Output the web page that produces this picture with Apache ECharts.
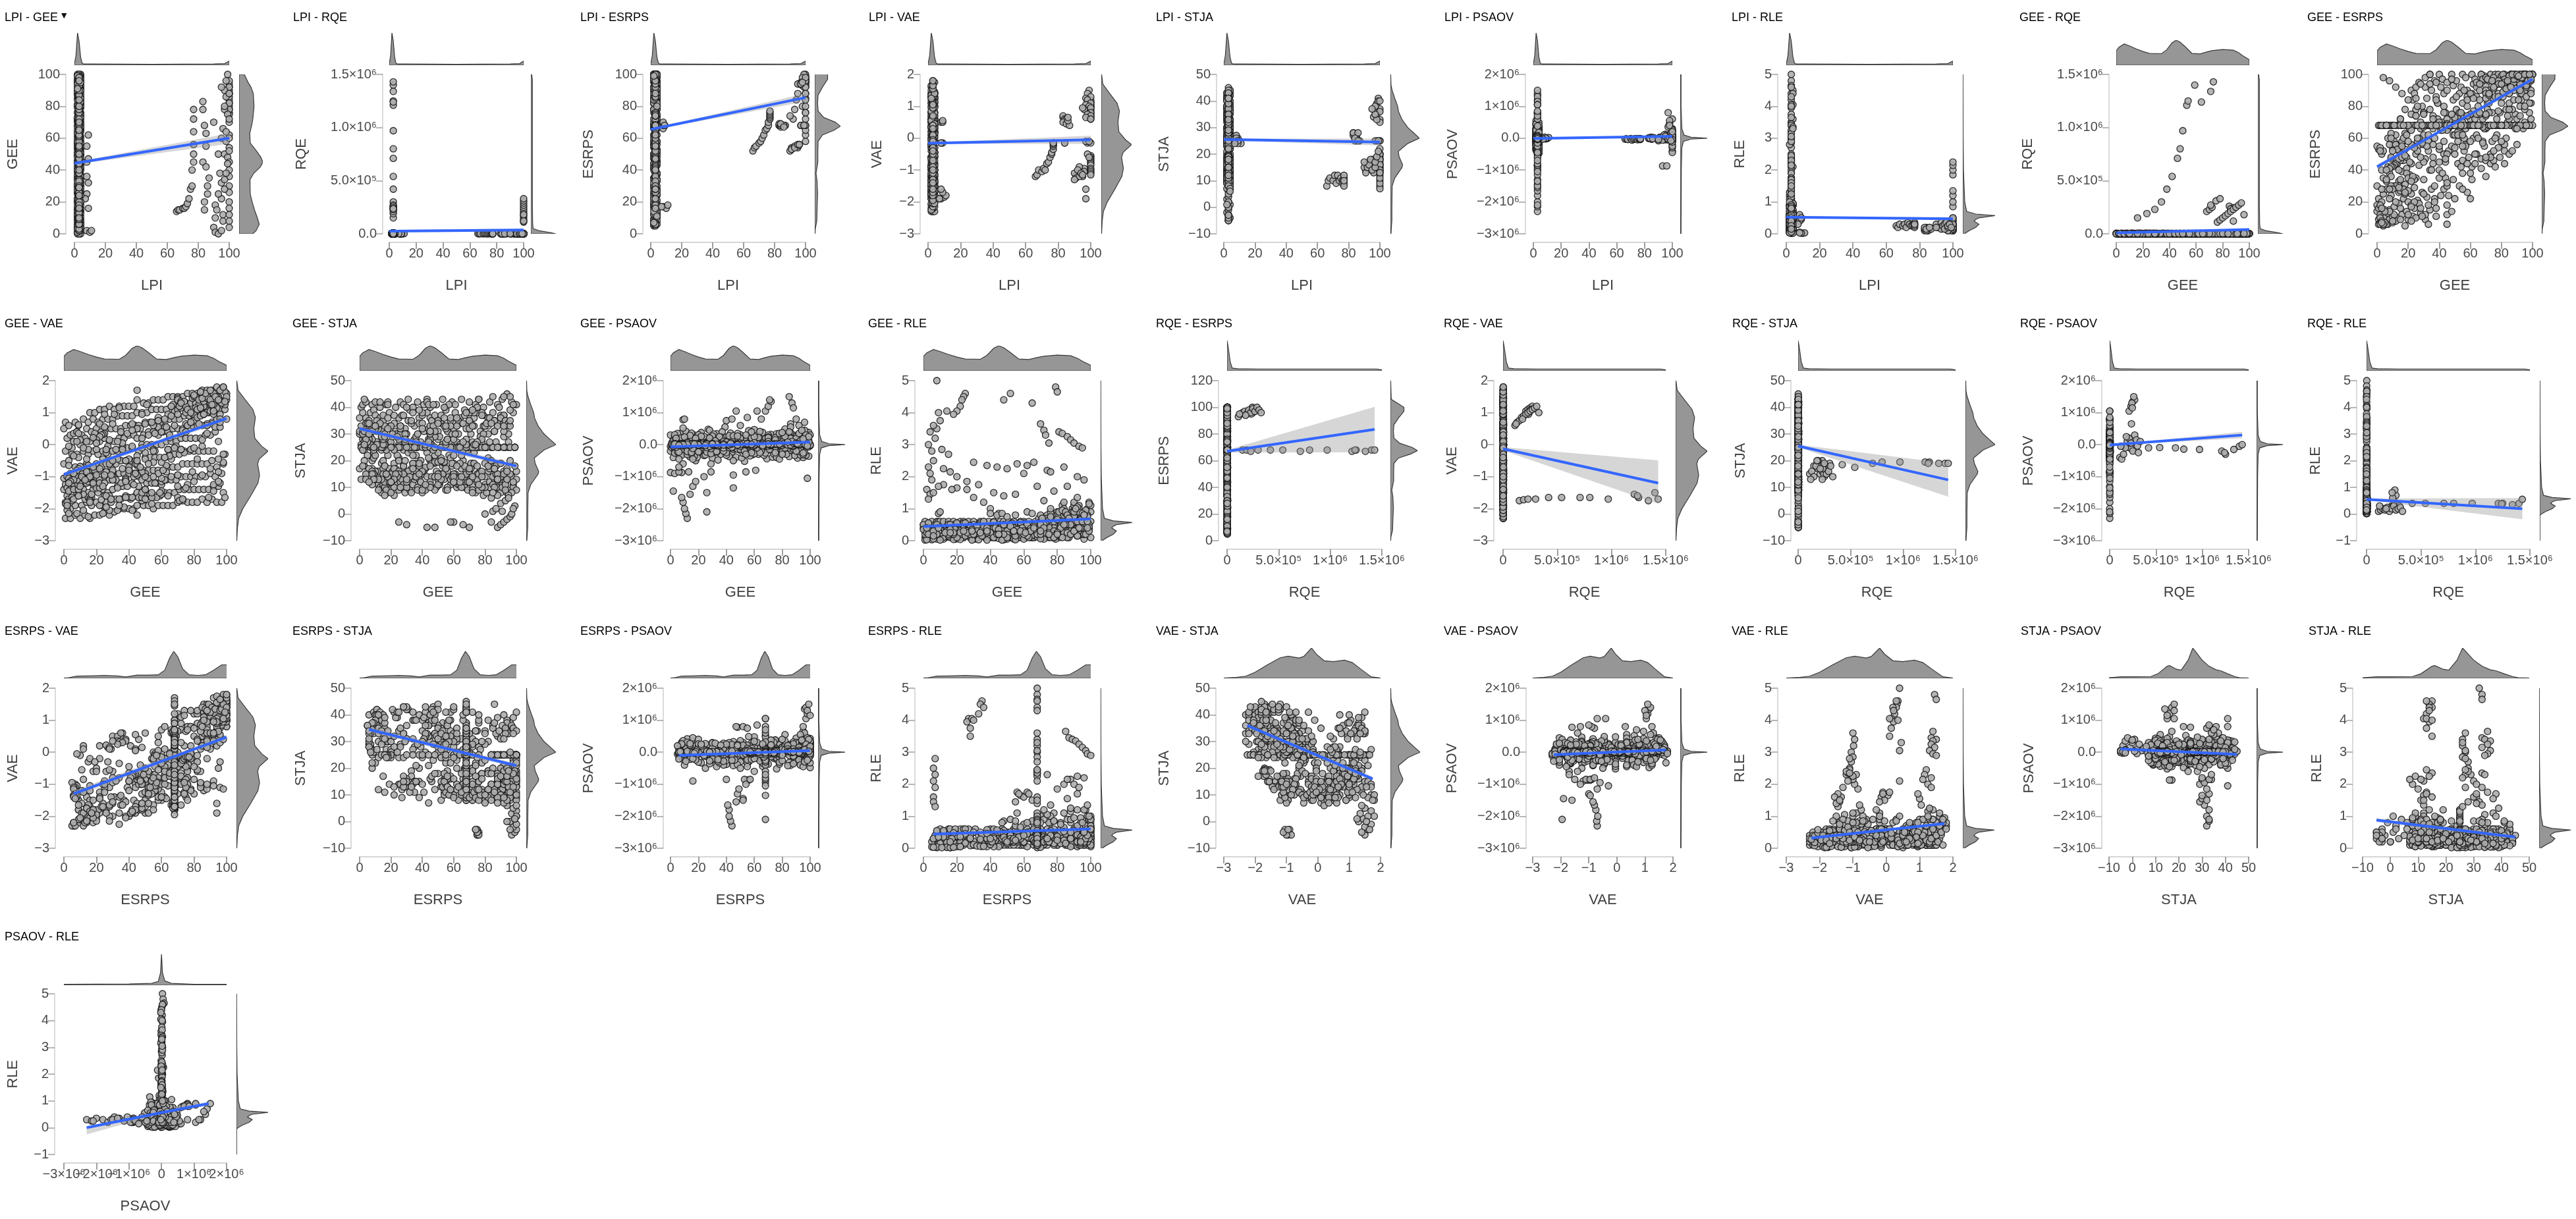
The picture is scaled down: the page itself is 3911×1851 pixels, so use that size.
<!DOCTYPE html>
<html><head><meta charset="utf-8"><title>Pairwise scatter plots with marginal densities</title>
<style>html,body{margin:0;padding:0;background:#fff}#c{width:3911px;height:1851px}</style>
<script src="https://cdn.jsdelivr.net/npm/echarts@6/dist/echarts.min.js"></script></head>
<body><div id="c"></div>
<script>
// Columns of each observation: LPI, GEE, RQE (thousands), ESRPS, VAE, STJA, PSAOV (ten-thousands), RLE
const rowsCloud=[
[3,1,2,6,-2.3,40,-12,.1],[2,1,1,9,-1.8,33,4,.3],[4,0,3,14,-1.4,36,-5,.5],[3,2,0,7,-1,28,18,.2],[2,0,5,18,-.6,30,-20,.4],[3,1,2,22,-.2,26,6,.6],[4,2,1,12,.2,24,-3,.1],[3,0,0,30,.5,31,30,.5],[2,1,4,68,.7,25,-9,.3],[3,2,2,68,-1.6,41,12,.2],
[2,4,3,5,-2.3,36,-6,.2],[3,4,1,11,-2,42,8,.4],[4,3,2,16,-1.7,30,-15,.1],[3,5,0,8,-1.3,27,12,.5],[2,4,6,25,-.9,34,-2,.3],[3,3,2,20,-.5,24,25,.2],[4,5,1,10,-.1,22,-18,.6],[3,4,3,35,.3,28,5,.4],[2,3,1,50,.6,18,-7,.1],[3,5,2,68,-.3,15,3,.3],
[3,7,2,6,-2.2,29,10,.3],[4,7,0,13,-1.9,38,-4,.5],[2,8,5,9,-1.5,41,-22,.2],[3,6,1,28,-1.1,33,6,.1],[3,7,3,42,-.7,26,14,.4],[4,8,2,15,-.3,17,-10,.6],[2,6,1,68,.1,14,2,.2],[3,8,4,38,.4,20,-28,.5],[3,7,0,60,.7,25,35,.3],[2,6,2,68,-1.3,35,-5,.1],
[3,10,1,7,-2.3,33,-3,.4],[2,11,3,17,-1.9,27,20,.2],[4,9,2,24,-1.6,39,-12,.6],[3,10,0,11,-1.2,42,7,.3],[3,11,6,30,-.8,31,-25,.1],[2,9,2,47,-.4,23,4,.5],[3,10,1,68,0,13,-6,.2],[4,11,4,58,.3,16,28,.4],[3,9,2,36,.6,21,-15,.3],[2,10,1,68,-.9,37,3,.6],
[3,13,2,10,-2.2,40,6,.1],[4,14,1,19,-1.8,32,-9,.5],[2,12,3,8,-1.4,25,15,.3],[3,13,5,44,-1,36,-4,.4],[3,14,0,26,-.6,29,22,.2],[2,12,2,54,-.2,11,-13,.6],[4,13,4,68,.2,10,5,.1],[3,14,1,33,.5,19,-21,.4],[3,12,3,62,.8,14,9,.3],[2,13,2,68,-1.7,42,-2,.2],
[4,16,1,12,-2.3,30,-5,.3],[3,17,4,22,-1.9,41,11,.1],[2,15,2,16,-1.5,35,-17,.5],[3,16,0,39,-1.1,28,3,.2],[3,17,3,52,-.7,24,30,.4],[4,15,2,27,-.3,9,-8,.6],[2,16,5,68,.1,12,1,.3],[3,17,1,46,.4,15,-26,.2],[3,15,2,72,.7,20,13,.5],[4,16,3,68,1,18,-3,.1],
[3,19,2,14,-2.2,38,9,.2],[2,20,1,9,-1.8,26,-14,.4],[3,18,5,31,-1.4,42,4,.6],[4,19,3,48,-1,33,-2,.1],[3,20,0,20,-.6,27,18,.3],[3,18,2,63,-.2,8,-20,.5],[2,19,4,41,.2,11,6,.2],[3,20,1,68,.5,13,-7,.4],[4,18,2,78,.8,22,24,.3],[3,19,3,68,1,17,-4,.1],
[2,22,1,18,-2.2,34,-1,.5],[3,23,3,11,-1.9,40,12,.1],[4,21,2,37,-1.5,29,-16,.3],[3,22,0,25,-1.1,24,7,.6],[3,23,4,55,-.7,31,-6,.2],[2,21,2,68,-.3,10,27,.4],[3,22,1,44,.1,7,-11,.1],[4,23,5,84,.4,14,2,.5],[3,21,2,66,.7,16,-24,.3],[2,22,3,90,1.1,19,5,.2],
[3,25,2,10,-2.1,36,-8,.2],[4,26,4,21,-1.8,42,15,.4],[3,24,1,29,-1.4,30,-3,.1],[2,25,3,50,-1,26,19,.5],[3,26,0,68,-.6,33,-12,.3],[3,24,2,16,-.2,11,6,.6],[4,25,5,74,.2,9,-19,.2],[2,26,1,58,.5,12,3,.4],[3,24,3,88,.8,15,10,.1],[3,25,2,92,1.1,21,-5,.3],
[3,28,1,13,-2.2,41,4,.4],[2,29,3,26,-1.8,28,-13,.2],[4,27,2,43,-1.5,37,21,.5],[3,28,5,68,-1.1,24,-1,.1],[3,29,0,56,-.7,32,-27,.3],[2,27,2,19,-.3,14,8,.6],[3,28,3,68,.1,10,-9,.2],[4,29,1,80,.5,8,16,.4],[3,27,2,95,.8,13,-4,.3],[3,28,4,70,1.2,18,2,.1],
[2,31,2,9,-2.1,35,-6,.3],[3,32,1,23,-1.7,39,10,.1],[4,30,3,34,-1.4,27,-15,.5],[3,31,0,47,-1,43,5,.2],[3,32,2,68,-.6,25,-22,.4],[2,30,4,62,-.2,30,13,.6],[3,31,1,12,.1,12,-3,.3],[4,32,2,85,.5,9,7,.1],[3,30,3,76,.8,15,-10,.5],[2,31,2,98,1.1,23,26,.2],
[3,34,3,15,-2,40,1,.2],[4,35,1,28,-1.7,33,-7,.4],[3,33,2,52,-1.3,24,12,.1],[2,34,0,40,-.9,38,-18,.6],[3,35,5,68,-.5,28,4,.3],[3,33,2,58,-.2,17,20,.5],[4,34,1,78,.2,11,-11,.2],[2,35,3,90,.5,13,3,.4],[3,33,2,68,.9,8,-5,.1],[3,34,1,100,1.2,19,9,.3],
[4,37,2,30,-2,42,-4,.5],[3,38,1,11,-1.6,36,16,.2],[2,36,3,48,-1.3,29,-12,.4],[3,37,0,60,-.9,25,2,.1],[3,38,4,68,-.5,34,-20,.3],[4,36,2,74,-.1,22,7,.6],[2,37,1,22,.2,10,-2,.2],[3,38,2,86,.6,13,25,.4],[3,36,3,68,.9,16,-8,.3],[4,37,1,96,1.2,9,4,.1],
[3,40,1,40,-2,34,6,.3],[2,41,3,24,-1.7,41,-10,.1],[3,39,2,68,-1.3,27,23,.5],[4,40,0,53,-.9,37,-3,.2],[3,41,2,65,-.5,31,-16,.4],[2,39,5,82,-.1,12,9,.6],[3,40,1,68,.3,8,-1,.3],[4,41,3,92,.6,15,14,.2],[3,39,2,72,.9,20,-6,.1],[3,40,1,100,1.2,25,3,.4],
[3,43,2,28,-2,43,-2,.4],[4,44,1,45,-1.6,32,12,.2],[2,42,3,68,-1.2,25,-9,.5],[3,43,0,58,-.9,38,5,.1],[3,44,4,76,-.5,28,-23,.3],[4,42,2,68,-.1,10,17,.6],[3,43,1,88,.3,14,-4,.2],[2,44,2,35,.6,11,2,.4],[3,42,3,97,.9,17,-13,.3],[3,43,1,80,1.2,23,8,.1],
[3,45,2,6,-2.2,33,-6,.3],[2,45,1,12,-1.9,40,3,.5],[4,45,3,18,-1.5,30,-14,.2],[3,46,0,24,-1,26,9,.4],[3,45,2,30,-.6,36,1,.1],[2,46,4,68,-.2,25,-5,.6],[3,45,1,68,.2,25,7,.3],[4,46,2,66,.6,14,-2,.2],[3,45,3,90,1,12,15,.4],[2,45,1,95,1.4,20,-8,.3],[3,45,2,68,1.7,27,2,.1],[4,46,0,52,-1.3,35,11,.5],
[3,49,1,34,-1.9,41,5,.2],[4,50,3,50,-1.5,28,-17,.4],[3,48,2,68,-1.1,37,1,.1],[2,49,0,62,-.8,24,14,.5],[3,50,2,72,-.4,31,-7,.3],[3,48,5,55,0,22,22,.6],[4,49,1,84,.3,10,-3,.2],[2,50,2,68,.7,13,6,.4],[3,48,3,100,1,9,-12,.3],[3,49,1,93,1.3,16,3,.1],
[3,52,2,44,-1.9,37,-1,.4],[2,53,1,30,-1.6,43,13,.2],[4,51,3,68,-1.2,29,-8,.5],[3,52,0,58,-.8,34,4,.1],[3,53,2,64,-.4,26,-19,.3],[2,51,4,78,0,11,10,.6],[3,52,1,68,.4,15,-5,.2],[4,53,2,88,.7,18,2,.4],[3,51,3,96,1,12,24,.3],[3,52,1,74,1.3,21,-9,.1],
[4,55,3,38,-2,40,7,.3],[3,56,1,52,-1.6,31,-11,.5],[2,54,2,68,-1.2,25,2,.2],[3,55,0,46,-.8,39,18,.4],[3,56,2,60,-.4,28,-4,.1],[4,54,5,70,0,13,-15,.6],[2,55,1,82,.4,9,6,.3],[3,56,3,68,.7,16,-2,.2],[3,54,2,92,1.1,19,11,.5],[4,55,1,100,1.4,25,-6,.1],
[3,58,1,26,-1.9,35,3,.2],[3,59,2,48,-1.6,42,-12,.4],[2,57,3,56,-1.2,27,8,.1],[4,58,0,68,-.8,36,-3,.6],[3,59,2,74,-.4,30,20,.3],[3,57,1,66,0,14,-8,.5],[2,58,4,86,.3,11,2,.2],[3,59,2,68,.7,18,-17,.4],[4,57,1,98,1.1,22,9,.3],[3,58,3,90,1.4,13,-1,.1],
[2,61,2,42,-1.9,41,-5,.4],[3,62,1,60,-1.5,33,16,.2],[3,60,3,68,-1.2,25,-10,.6],[4,61,0,34,-.8,38,4,.1],[3,62,2,77,-.4,27,-21,.3],[2,60,4,68,0,12,7,.5],[3,61,1,88,.4,15,-2,.2],[3,62,2,94,.7,10,30,.4],[4,60,3,72,1.1,19,-7,.3],[3,61,1,100,1.4,24,3,.1],
[3,64,1,50,-1.9,36,2,.3],[4,65,2,68,-1.5,43,-13,.5],[2,63,3,44,-1.1,30,10,.2],[3,64,0,62,-.7,26,-4,.4],[3,65,2,80,-.3,34,15,.1],[3,63,4,68,.1,11,-9,.6],[4,64,1,92,.4,14,5,.3],[2,65,2,76,.8,17,-18,.2],[3,63,1,97,1.1,13,1,.5],[3,64,3,86,1.5,25,8,.1],
[3,67,2,41,-1.9,39,-3,.5],[2,68,1,58,-1.5,32,12,.3],[4,66,3,68,-1.1,25,-7,.1],[3,67,0,47,-.7,37,4,.6],[3,68,2,72,-.3,28,-14,.2],[3,66,1,84,.1,13,9,.4],[2,67,4,68,.5,10,-1,.3],[4,68,2,95,.8,16,19,.5],[3,66,1,90,1.2,20,-6,.1],[3,67,3,100,1.5,14,2,.4],
[4,70,2,46,-1.8,42,6,.2],[3,71,1,68,-1.4,34,-10,.4],[3,69,3,55,-1.1,24,3,.7],[2,70,0,66,-.7,38,-2,.1],[3,71,2,82,-.3,30,23,.5],[4,69,1,68,.1,9,-5,.3],[3,70,2,93,.5,12,11,.6],[2,71,4,78,.8,18,-16,.2],[3,69,1,99,1.2,25,2,.4],[3,70,2,88,1.5,15,7,.8],
[3,73,1,44,-1.7,36,-8,.4],[3,74,2,58,-1.4,41,4,.2],[4,72,3,68,-1,27,14,.6],[2,73,0,50,-.6,33,-3,.3],[3,74,2,76,-.2,25,9,.8],[3,72,1,90,.2,11,-12,.1],[4,73,2,68,.5,14,3,.5],[3,74,3,96,.9,8,-1,.7],[2,72,1,82,1.2,19,20,.3],[3,73,2,100,1.5,23,-4,.2],
[2,76,2,42,-1.8,43,1,.6],[3,77,1,62,-1.4,31,-15,.3],[3,75,3,46,-1,38,8,.1],[4,76,0,68,-.6,25,-6,.9],[3,77,2,72,-.2,29,3,.4],[3,75,1,85,.2,13,17,.2],[2,76,4,68,.6,9,-2,.7],[3,77,2,98,.9,16,5,.5],[4,75,1,91,1.3,12,-9,.3],[3,76,3,100,1.6,25,2,1],
[3,79,1,48,-1.8,40,-4,.3],[4,80,3,68,-1.4,33,11,.7],[3,78,2,54,-1,27,-1,.1],[3,79,0,76,-.6,37,6,.5],[2,80,2,68,-.2,11,-20,.9],[3,78,1,88,.2,14,2,.4],[4,79,3,94,.6,7,9,.2],[3,80,2,82,.9,19,-3,.8],[3,78,1,100,1.3,25,28,.6],[2,79,2,96,1.6,15,-7,.3],
[3,82,2,44,-1.8,36,4,.5],[3,83,1,60,-1.4,42,-9,.2],[2,81,3,68,-1,25,1,.8],[4,82,0,52,-.6,30,14,.4],[3,83,2,78,-.2,12,-5,1.1],[3,81,1,68,.2,8,7,.1],[3,82,2,92,.6,16,-13,.6],[4,83,3,99,1,10,3,.3],[2,81,1,86,1.3,25,-2,.9],[3,82,2,100,1.6,21,18,.5],
[4,85,1,50,-1.7,44,-6,.2],[3,86,2,68,-1.4,31,5,.6],[3,84,3,70,-1,25,-1,1],[2,85,0,82,-.6,38,10,.4],[3,86,2,68,-.2,13,-17,.1],[3,84,1,94,.2,6,3,.8],[4,85,2,88,.6,17,-4,.5],[3,86,3,100,1,11,24,.3],[2,84,1,97,1.3,25,2,1.2],[3,85,2,92,1.7,14,-10,.6],
[3,88,2,68,-1.8,41,3,.4],[3,89,1,75,-1.4,34,-7,.8],[4,87,3,52,-1,27,1,.2],[2,88,0,84,-.6,12,12,.6],[3,89,2,68,-.2,9,-3,1],[3,87,1,96,.3,15,6,.3],[3,88,2,90,.6,10,-14,.5],[4,89,3,100,1,25,2,.9],[2,87,1,78,1.3,18,-5,.1],[3,88,2,98,1.7,13,8,.7],
[3,91,1,68,-1.7,43,-2,.6],[4,92,2,80,-1.3,29,9,.3],[2,90,3,56,-.9,37,-6,1.1],[3,91,0,68,-.5,11,1,.5],[3,92,2,88,-.2,16,15,.2],[3,90,1,72,.3,8,-3,.9],[4,91,2,95,.7,13,4,.7],[2,92,3,100,1,25,-11,.4],[3,90,1,92,1.4,19,2,1.2],[3,91,2,97,1.7,10,21,.6],
[3,94,1,68,-1.8,45,3,.4],[2,95,2,70,-1.3,33,-8,.8],[3,93,3,84,-1,25,1,1.1],[4,94,0,66,-.7,14,6,.2],[3,95,2,90,.1,9,-4,.6],[3,93,1,98,.4,12,12,1],[2,94,2,100,.8,17,-2,.5],[3,95,3,94,1.1,25,7,.3],[4,93,1,88,1.4,11,-15,.9],[3,94,2,100,1.8,8,3,.7],
[3,97,2,68,-1.8,42,-5,.5],[3,98,1,76,-1.5,38,2,1],[4,96,3,86,-1.2,44,9,.3],[2,97,0,92,-.9,14,-2,.7],[3,98,2,68,-.6,11,5,.2],[3,99,1,96,-.3,25,-7,1.2],[4,100,2,100,.8,16,1,.6],[3,99,3,90,1.1,25,13,.4],[2,100,1,100,1.4,13,-3,.9],[3,98,2,98,1.8,10,4,.8],[3,100,1,68,1.6,9,-1,1.1],[4,99,2,82,1.3,18,8,.5]];
const rowsCloudFill=[
[3,2,1,10,-2.05,38,-40,.15],[4,5,2,15,-1.65,31,35,.25],[3,8,0,22,-1.25,28,-33,.05],[2,11,3,12,-.85,35,42,.35],[3,14,1,40,-.45,24,-38,.45],[3,3,2,8,-.05,20,31,.55],[4,6,1,33,.35,17,-45,.15],[3,9,4,68,.62,23,52,.25],[2,12,0,20,-2.05,26,-31,.05],[3,15,2,9,-1.65,37,36,.35],
[3,18,1,25,-1.25,41,-50,.45],[4,21,3,45,-.85,30,33,.15],[3,24,0,68,-.45,22,-34,.55],[2,27,2,60,-.05,16,48,.25],[3,19,1,38,.35,9,-40,.05],[3,22,5,75,.65,13,38,.35],[4,25,2,85,.95,20,-32,.45],[3,28,1,16,-2.05,37,45,.15],[2,17,3,28,-1.65,24,-36,.25],[3,20,0,12,-1.25,33,31,.55],
[3,30,2,45,-.85,40,-42,.05],[4,33,1,68,-.45,27,34,.35],[3,36,3,56,-.05,19,-30,.45],[2,39,2,82,.35,12,55,.15],[3,42,0,70,.65,9,-37,.25],[3,31,1,92,.95,16,33,.05],[4,34,2,100,1.15,22,-48,.55],[3,37,4,20,-1.95,30,40,.35],[2,40,1,35,-1.65,38,-33,.15],[3,43,2,50,-1.25,42,36,.45],
[3,47,1,68,-.85,33,-39,.25],[4,50,3,62,-.45,23,31,.05],[3,53,2,76,-.05,15,-52,.55],[2,56,0,90,.35,10,44,.35],[3,59,2,68,.65,14,-31,.15],[3,48,1,97,.95,19,35,.45],[4,51,4,86,1.25,12,-41,.25],[3,54,2,42,-1.85,36,30,.05],[2,57,1,55,-1.65,41,-35,.35],[3,60,3,68,-1.25,28,47,.55],
[3,63,2,50,-.85,35,-30,.15],[4,66,0,75,-.45,24,38,.45],[3,69,1,66,-.05,12,-44,.25],[2,72,3,88,.35,9,32,.05],[3,75,2,68,.65,15,-36,.65],[3,64,1,95,.95,11,41,.35],[4,67,2,100,1.25,18,-33,.15],[3,70,4,90,1.45,25,30,.55],[2,73,1,48,-1.75,38,-39,.25],[3,76,2,60,-1.25,43,34,.75],
[3,79,0,68,-.85,30,-31,.05],[4,82,2,56,-.45,36,49,.45],[3,85,1,78,-.05,11,-37,.85],[2,88,3,92,.35,7,30,.25],[3,91,2,84,.65,14,-42,.65],[3,80,1,99,.95,25,33,.15],[4,83,2,90,1.25,17,-30,.95],[3,86,3,100,1.45,10,37,.35],[2,89,1,66,-1.65,40,-34,.55],[3,92,2,74,-1.25,34,31,1.05],
[3,95,1,68,-.85,27,-40,.25],[4,98,0,82,-.55,12,35,.75],[3,93,2,96,.55,9,-32,.45],[2,96,3,100,.95,15,43,.05],[3,99,1,88,1.25,25,-36,1.15],[3,94,2,100,1.55,13,30,.65],[4,97,1,94,1.75,8,-33,.95],[3,99,2,72,-1.65,41,38,.35],[2,95,1,78,-1.15,30,-31,.85],[3,92,3,68,-1.45,44,32,.15],
[3,3,2,28,-2.15,43,-25,.08],[4,8,1,14,-2.15,25,22,.18],[2,15,3,34,-2.25,25,-28,.28],[3,24,0,20,-2.15,25,26,.38],[3,33,2,18,-2.05,25,-24,.48],[4,42,1,38,-2.05,25,28,.58],[3,3,2,40,-.65,25,-26,.12],[2,14,1,30,-.95,25,29,.22],[3,26,3,55,-.25,25,-23,.32],[4,36,2,44,.05,25,24,.42],
[3,52,1,64,-1.05,25,-27,.52],[2,63,0,72,-.65,25,22,.12],[3,74,2,68,-.25,25,-29,.22],[4,85,1,88,.15,25,26,.32],[3,96,3,92,.55,25,-24,.42],[2,58,2,84,.85,25,21,.52],[3,68,1,96,1.05,25,-26,.12],[4,81,2,100,1.15,25,23,.22],[3,92,1,98,1.35,25,-21,.32],[2,99,2,100,1.65,25,28,.42],
[3,20,1,35,-1.35,15,-22,.06],[4,30,3,25,-1,14,27,.16],[3,40,2,45,-.75,16,-25,.26],[2,50,1,22,-1.4,13,20,.36],[3,60,0,38,-1.55,15,-28,.46],[3,70,2,48,-.95,12,24,.56],[4,80,1,58,-1.15,10,-23,.66],[3,90,3,66,-.75,14,26,.76],[2,12,1,30,-1.55,16,-21,.11],[3,35,2,40,-1.2,14,25,.21],
[3,55,1,28,-.55,17,-27,.31],[4,75,0,52,-1.35,13,22,.41],[3,15,2,46,-.65,17,-24,.51],[2,45,3,32,-.9,11,28,.07],[3,65,1,60,-.35,10,-20,.17],[3,85,2,72,-.95,8,23,.27],[4,95,1,80,-.45,7,-26,.37],[3,28,2,48,.15,18,21,.47],[2,58,1,44,.55,21,-25,.57],[3,10,2,8,-1.05,22,24,.02],
[3,5,1,14,-1.75,34,-22,.03],[4,22,2,8,-1.35,37,26,.04],[3,38,0,16,-1.05,39,-20,.02],[2,48,1,14,-1.75,29,27,.03],[3,6,3,34,-.35,31,-23,.06],[3,18,2,5,-.95,36,20,.04],[4,29,1,11,-.55,27,-28,.02],[3,60,2,22,-1.45,32,25,.05],[2,33,1,6,-1.35,34,-21,.03],[3,70,0,36,-1.65,38,22,.06]];
const rowsLowLPIEdge=[
[8,2,1,17,-1.9,25,1,.05],[10,1,0,16,-1.85,25,-1,.02],[11,2,2,18,-1.8,24,2,.03],[9,16,1,68,-1.7,26,0,.5],[8,25,0,68,-1.6,25,3,.55],[9,32,2,68,-.15,25,-2,.45],[8,36,1,66,-.15,27,1,.6],[8,45,0,68,.5,25,2,.4],[9,47,1,68,.5,24,-1,.02],[8,55,2,70,-.15,26,3,.03],[9,62,0,68,.55,25,0,.5],[7,22,1,17,-1.9,24,-3,.3]];
const rowsHighRQE=[
[3,16,150,68,-1.75,18,-5,.2],[3,23,190,68,-1.72,17,-8,.2],[3,29,230,67,-1.7,20,-12,.25],[3,34,300,68,-1.7,19,-4,.3],[3,38,420,68,-1.65,18.5,-10,.4],[3,42,540,68,-1.65,17.5,-9,.4],[3,46,710,67,-1.65,19,-10,.4],[3,48,800,68,-1.65,19.5,-14,.4],[3,50,970,68,-1.7,19.5,-15,.4],[3,53,1210,67,-1.55,19.5,-20,.4],[3,54,1250,68,-1.65,19.5,-30,.4],[3,64,1240,68,-1.6,19,-25,.38],[3,59,1400,68,-1.5,19,-5,.4],[3,71,1340,67,-1.75,19,-15,.35],[3,73,1430,68,-1.7,19,0,.55]];
const rowsTradeCluster=[
[3,68,210,97,1.05,15,105,.2],[3,70,230,98,1.1,16,120,.3],[3,72,250,96,1.15,14,135,.5],[3,71,270,97,1.2,17,140,.7],[3,85,260,99,1.1,18,150,.9],[3,87,240,98,1,18,130,.6],[3,88,245,100,1.05,15,115,.3],[3,86,235,95,.95,17,65,.8],
[100,76,110,93,.6,15,-40,.1],[100,78,130,95,.7,16,-45,.15],[100,80,150,96,.75,14,-30,.2],[100,82,170,97,.85,18,-10,.15],[100,84,190,95,.9,20,10,.25],[100,86,210,98,.95,17,20,.1],[100,88,230,96,1,13,5,.2],[100,90,250,99,1.05,19,-20,.3],[100,92,270,97,1.1,15,30,.15],[100,94,290,100,1.15,16,15,.2],[100,75,310,98,1.2,18,-25,.25],[100,78,330,96,1,14,10,.1],[100,96,180,94,.8,20,25,.2],[100,88,120,95,.65,13,-5,.3]];
const rowsHighLPI=[
[66,14,1,52,-1.2,8,-3,.25],[67,15,0,54,-1.15,10,-2,.2],[68,15,1,55,-1,11,-4,.3],[70,16,0,57,-1.05,10,-1,.25],[71,16,2,58,-.95,12,-6,.3],[72,17,1,60,-1,9,-3,.2],[73,19,0,62,-.8,12,-2,.35],[74,22,1,65,-.75,10,-1,.3],[75,28,2,66,-.6,11,-5,.25],[76,30,0,68,-.5,10,-3,.3],[76,40,1,70,-.45,9,-1,.25],[77,45,1,72,-.35,10,-2,.2],[77,50,0,73,-.25,11,-4,.3],[77,56,1,74,-.2,9,-2,.35],[77,64,0,75,-.15,12,-1,.3],[77,72,2,76,-.15,8,-3,.25],[77,78,1,77,-.15,10,-2,.3],
[83,83,1,68,.65,27,1,.1],[83,78,0,68,.7,28,-1,.15],[84,68,2,67,.6,26,2,.2],[85,63,1,68,.55,25,-2,.1],[85,55,0,68,.6,27,3,.15],[83,45,1,69,.5,28,0,.2],[85,42,1,68,.45,26,-3,.1],[87,35,0,68,.4,25,1,.15],[86,25,2,68,.55,28,2,.2],[84,20,1,68,-.15,25,0,.1],[84,15,0,69,-.15,26,-1,.15],[86,30,1,67,.65,25,-2,.2],
[91,18,1,53,-1.2,14,-4,.2],[91,10,2,54,-1.15,16,3,.25],[90,4,0,52,-1.1,15,-8,.3],[91,1,1,53,-1.25,13,1,.2],[93,0,0,55,-1.05,17,-87,.35],[95,2,1,54,-1,18,-5,.25],[96,8,2,56,-.95,16,-87,.2],[95,32,0,55,-1.1,14,12,.3],[93,50,1,54,-.9,15,5,.2],[95,22,1,56,-1.2,17,-2,.25],[96,12,0,56,-1.05,13,7,.3],[92,15,2,72,-1,15,3,.2],[93,25,1,78,-1.2,16,-6,.15],[94,38,0,84,-1.1,18,10,.25],[95,60,1,88,-1.15,14,6,.3],[90,70,1,74,-1.3,17,-4,.2],
[99,100,1,100,1.5,41,30,.1],[98,96,0,98,1.4,39,45,.2],[100,92,2,96,1.3,37,60,.15],[97,90,1,95,1.25,36,80,.3],[98,86,1,93,1.2,35,55,.25],[100,82,0,95,1.1,33,25,.4],[97,78,2,94,1.05,38,35,.1],[99,75,1,92,1,40,15,.2],[100,70,1,88,.95,32,10,.5],[96,66,0,94,.9,34,5,.35],[100,62,1,85,.8,36,-10,.15],[98,58,2,80,.75,33,40,.25],[100,54,0,76,.7,40,2,.3],[97,50,1,68,.65,35,-5,.1],[100,88,1,92,.6,25,3,.2],[98,64,2,68,-.15,25,1,.3],[100,72,1,68,-.15,25,-3,.4],[97,80,0,68,-.1,25,-2,.25],[99,48,1,68,-.1,25,0,.2],[95,92,1,94,.95,37,6,.15],
[100,60,0,58,-.55,22,-3,.3],[100,52,1,62,-.6,20,2,.45],[100,45,2,65,-.65,18,-6,.85],[100,40,0,68,-.7,16,8,1],[100,36,1,72,-.75,14,-1,1.2],[100,30,1,76,-.8,12,4,1.35],[100,26,0,80,-.85,10,-9,1.85],[100,20,2,84,-.95,8,3,2],[100,16,1,88,-1,7,-12,2.15],[100,12,0,92,-1.05,9,6,2.25],[100,8,1,96,-1.1,11,-4,.5],[100,4,1,98,-1.15,13,20,.3],[97,28,0,94,-1.6,15,-5,.2],[97,34,1,94,-1.9,17,-2,.25],[98,38,2,95,-.5,19,2,.3],[99,44,1,68,-.6,21,-8,.2]];
const rowsHighRLE=[
[3,8,2,68,.4,32,3,5],[3,79,1,68,1.45,33,5,4.8],[3,80,3,68,1.5,33,8,4.65],[3,25,1,35,.35,15,4,4.6],[4,24,2,34,.32,14,1,4.5],[3,23,0,36,.3,15,-1,4.4],[3,22,1,33,.25,13,2,4.2],[3,52,2,68,.3,13,3,4.6],[4,48,1,68,.2,14,0,4.4],[3,65,0,68,.22,14,-2,4.3],
[4,20,1,27,.15,12,1,4.05],[3,18,3,26,.22,14,3,3.95],[3,14,2,29,.1,13,-2,4.05],[3,9,1,30,.35,15,2,4],[3,10,0,28,.15,13,1,3.75],[3,8,2,28,.1,15,0,3.5],[3,4,1,68,-.95,26,2,3.4],[4,6,2,68,-1,27,-1,3.6],[3,7,0,68,-.98,26,1,3.2],[3,3,1,68,-1.05,27,3,3],
[3,11,2,68,-1,26,0,2.85],[3,15,1,68,-1.05,28,2,2.7],[2,5,0,7,-1.1,27,1,2.8],[3,6,1,6,-1.1,28,-1,2.5],[3,3,2,7,-1.2,29,2,2.3],[4,4,0,6,-1.15,30,1,2.1],[3,5,1,7,-1.3,27,0,1.9],[3,2,1,6,-1.35,31,-1,1.6],[3,4,2,6,-1.4,28,1,1.45],[2,3,0,7,-1.45,26,2,1.3],
[3,70,1,85,1.4,35,2,3.65],[3,72,0,87,1.35,33,-1,3.45],[3,81,2,89,1.5,34,3,3.4],[4,83,1,91,1.4,36,1,3.35],[3,86,0,93,1.35,35,0,3.25],[3,88,1,95,1.45,33,-2,3.15],[3,90,2,97,1.3,36,2,3.05],[3,93,1,98,1.4,35,1,2.95],[3,95,0,100,1.5,34,3,2.9],[4,73,1,68,.45,26,1,3.3],[3,75,2,68,.4,27,2,3.05],
[3,30,1,68,-1.1,13,1,2.45],[3,38,0,68,-1.15,15,-1,2.35],[3,44,2,68,-.9,27,2,2.3],[3,50,1,68,-1,14,0,2.25],[3,56,1,68,-1.2,28,1,2.4],[3,62,0,68,-1.1,33,3,2.35],[3,66,1,68,1.2,27,1,2.45],[3,74,2,96,1.35,26,2,2.2],[3,84,1,74,1.15,34,-1,2.3],[3,92,0,90,1.25,31,1,2],[3,96,1,93,1.35,33,2,1.9],[3,60,2,68,.4,12,0,2.1],[3,76,1,86,1.1,11,2,2.15],
[3,12,1,56,-.1,13,1,1.75],[3,20,0,58,.05,12,-1,1.65],[3,26,1,60,-.15,30,2,1.6],[3,33,2,62,.1,35,1,1.75],[3,42,1,65,-.05,11,0,1.5],[3,55,0,55,-.2,32,3,1.45],[3,68,1,57,-.1,38,1,1.7],[3,78,2,86,1,37,2,1.55],[3,86,1,92,.95,31,-1,1.7],[3,92,0,98,1.05,33,1,1.35],[3,9,1,63,-1.45,13,0,1.7],[3,17,1,68,-1.55,15,2,1.6],[3,48,2,68,-1.5,31,1,1.4],[3,6,0,68,-1.4,12,-2,1.5],[3,72,1,88,1.3,39,1,1.25]];
const rowsLowSTJA=[
[3,88,2,97,1.5,-5,5,.5],[4,90,1,99,1.4,-4,20,.3],[3,92,3,100,1.6,-3,35,.6],[2,94,0,98,1.5,-2,45,.4],[3,96,2,100,1.7,-1,15,.8],[3,97,1,96,1.3,0,30,.2],[4,85,2,99,1.45,1,40,.5],[3,87,1,100,1.6,2,10,.7],[2,99,3,97,1.35,3,25,.3],[3,90,0,100,1.7,4,5,.9],[3,93,2,98,1.5,5,12,.4],[4,95,1,100,1.4,6,18,.6],[3,80,2,94,1.55,0,38,.2],[3,84,1,96,1.65,-3,8,.5],[3,98,2,100,1.8,2,-4,.6],[2,91,1,99,1.25,1,3,1],
[3,70,2,75,-.95,-5,2,.3],[3,66,1,76,-1,-4,-3,.4],[3,60,0,75,-1.05,-3,6,.2],[3,58,2,74,-.9,-3,1,.3],[3,48,1,75,-.85,-5,-1,.5],[3,43,2,76,-1,-5,4,.4],[3,30,0,75,-1.1,-4,2,.2],[3,25,1,74,-.95,-3,-2,.3]];
const rowsLowPSAOV=[
[3,12,1,44,-.7,32,-230,.3],[3,11,2,43,-.72,33,-215,.25],[3,10,0,42,-.68,32,-200,.35],[3,9,1,42,-.75,33,-180,.3],[3,8,2,41,-.8,31,-165,.2],[3,14,1,47,-.85,29,-155,.3],[3,16,0,48,-1,33,-130,.35],[3,18,1,49,-.7,32,-115,.25],[3,2,2,52,-1.9,30,-145,.4],[3,26,1,52,-1.6,32,-150,.3],[3,26,0,68,-1.95,33,-210,.25],[3,45,1,68,-.95,30,-135,.35],[3,3,2,16,-1.2,31,-90,.2],[3,6,1,40,-.9,30,-85,.3],[3,13,0,53,-1.1,34,-85,.25],[3,24,1,54,-1.3,29,-100,.3],[3,29,2,57,-.95,30,-85,.35],[3,45,1,68,-.6,31,-95,.2],[3,54,0,68,-1.5,33,-85,.3],[3,61,1,68,-.8,30,-80,.25],[3,98,2,68,-.3,41,-105,.4],[3,29,1,68,-1.7,28,-60,.3],[3,45,0,50,-.5,31,-50,.2],[3,9,1,60,-1.4,24,-60,.4],[3,16,2,55,-1.8,29,-45,.25],[3,6,0,68,-1.7,34,-70,.15],
[3,9,1,48,-1.6,25,78,.85],[3,10,2,52,-1.3,33,80,.9],[3,40,0,55,-.8,32,75,.85],[3,44,1,47,-.9,41,80,.8],[3,47,2,68,-.7,41,105,.85],[3,50,1,68,-1.4,34,60,.75],[3,62,0,68,-.4,18,105,.9],[3,65,1,68,.3,22,80,.85],[3,96,2,68,.7,35,70,.8],[3,55,1,62,-1,33,85,.8]];
const observations=[...rowsCloud,...rowsCloudFill,...rowsLowLPIEdge,...rowsHighRQE,...rowsTradeCluster,...rowsHighLPI,...rowsHighRLE,...rowsLowSTJA,...rowsLowPSAOV];
const variableNames=['LPI','GEE','RQE','ESRPS','VAE','STJA','PSAOV','RLE'];
const columnUnits=[1,1,1e3,1,1,1,1e4,1];

// Axis ranges and tick labels
const axisRange={LPI:[0,100,20],GEE:[0,100,20],RQE:[0,1.5e6,5e5],ESRPS:[0,100,20],VAE:[-3,2,1],STJA:[-10,50,10],PSAOV:[-3e6,2e6,1e6],RLE:[0,5,1]};
const rangeOverride={'RQE-ESRPS':[0,120,20],'RQE-RLE':[-1,5,1],'PSAOV-RLE':[-1,5,1]};
const ticksPlain={LPI:['0','20','40','60','80','100'],VAE:['−3','−2','−1','0','1','2'],STJA:['−10','0','10','20','30','40','50'],RLE:['0','1','2','3','4','5']};
ticksPlain.GEE=ticksPlain.LPI;ticksPlain.ESRPS=ticksPlain.LPI;
const ticksRQEx=['0','5.0×10⁵','1×10⁶','1.5×10⁶'];
const ticksRQEy=['0.0','5.0×10⁵','1.0×10⁶','1.5×10⁶'];
const ticksPSAOVx=['−3×10⁶','','−1×10⁶','0','','2×10⁶'];
const ticksPSAOVxCrowded=['','−2×10⁶','','','1×10⁶',''];
const ticksPSAOVy=['−3×10⁶','−2×10⁶','−1×10⁶','0.0','1×10⁶','2×10⁶'];
const ticksRLEwide=['−1','0','1','2','3','4','5'];
const ticksESRPSwide=['0','20','40','60','80','100','120'];

// Marginal densities: [value, height relative to the peak]
const densLPI=[[0,.03],[1,.3],[2,1],[3,.75],[4,.25],[5,.06],[6,.04],[10,.04],[50,.03],[90,.04],[97,.05],[100,.13]];
const densGEE=[[0,.575],[2,.72],[6,.85],[10,.77],[15,.65],[20,.55],[25,.47],[34,.46],[38,.62],[42,.9],[45,1],[48,.92],[52,.73],[57,.47],[63,.45],[68,.53],[72,.58],[80,.63],[88,.6],[92,.5],[95,.38],[100,.22]];
const densRQE=[[0,1],[1e4,.8],[3e4,.3],[5e4,.09],[1e5,.07],[3e5,.06],[1.45e6,.06],[1.5e6,.03]];
const densESRPS=[[0,.01],[3,.02],[8,.08],[15,.09],[25,.11],[33,.09],[38,.05],[45,.12],[52,.12],[58,.13],[62,.3],[65,.75],[67.5,1],[70,.8],[73,.35],[77,.13],[82,.11],[87,.13],[92,.3],[97,.5],[100,.5],[102,.35],[106,.03],[120,.01]];
const densVAE=[[-3,.01],[-2.6,.03],[-2.3,.07],[-2,.2],[-1.6,.45],[-1.2,.68],[-.95,.73],[-.6,.67],[-.45,.72],[-.2,1],[-.05,.8],[.2,.58],[.5,.55],[.85,.6],[1.1,.52],[1.4,.28],[1.7,.05],[2,.01]];
const densSTJA=[[-10,.02],[-8,.03],[-5,.05],[0,.05],[8,.06],[11,.15],[15,.4],[16,.42],[19,.3],[21,.27],[24,.6],[26,1],[28,.8],[30,.6],[33,.4],[36,.28],[38,.25],[41,.15],[44,.06],[46,.02],[50,.01]];
const densPSAOV=[[-3e6,.03],[-1e6,.04],[-3e5,.06],[-1e5,.12],[-3e4,.4],[0,1],[3e4,.4],[1e5,.14],[3e5,.06],[1e6,.03],[2e6,.03]];
const densRLE=[[-1,.005],[-.05,.005],[0,.05],[.1,.2],[.2,.4],[.3,.5],[.4,.35],[.45,.4],[.5,.5],[.57,1],[.62,.4],[.7,.12],[1,.06],[1.5,.04],[2,.02],[3,.01],[5,.005]];
const densities={LPI:densLPI,GEE:densGEE,RQE:densRQE,ESRPS:densESRPS,VAE:densVAE,STJA:densSTJA,PSAOV:densPSAOV,RLE:densRLE};
const topDensityPeak={LPI:49,GEE:38,RQE:46,ESRPS:41,VAE:46,STJA:46,PSAOV:47};

// Linear fits: "x-y": [x, lower, fit, upper] at the ends (and middle) of each line
const fitNodes={
'LPI-GEE':[[0,43.5,44.2,45],[100,56.5,60,63]],'LPI-RQE':[[0,1.5e4,2.5e4,3.5e4],[100,2e4,3.5e4,5e4]],'LPI-ESRPS':[[0,65,65.5,66],[100,83,85.5,88]],'LPI-VAE':[[0,-.18,-.16,-.14],[100,-.18,-.05,.08]],
'LPI-STJA':[[0,25.2,25.5,25.8],[100,23.2,24.5,25.8]],'LPI-PSAOV':[[0,-2e4,-1e4,0],[100,2e4,6e4,1e5]],'LPI-RLE':[[0,.51,.52,.53],[100,.42,.47,.52]],'GEE-RQE':[[0,0,1e4,2e4],[100,3e4,4e4,5e4]],
'GEE-ESRPS':[[0,40.5,42,43.5],[50,68.5,69.5,70.5],[100,95.5,97,98.5]],'GEE-VAE':[[0,-1,-.93,-.86],[100,.75,.82,.89]],'GEE-STJA':[[0,31.1,32,32.9],[100,17.1,18,18.9]],'GEE-PSAOV':[[0,-1e5,-7e4,-4e4],[100,5e4,8e4,1.1e5]],
'GEE-RLE':[[0,.4,.44,.48],[100,.64,.68,.72]],'RQE-ESRPS':[[0,66,67,68],[1.43e6,66.3,83.5,100.4]],'RQE-VAE':[[0,-.18,-.13,-.08],[1.43e6,-1.85,-1.2,-.49]],'RQE-STJA':[[0,25,25.5,26],[1.43e6,6.5,12.8,19]],
'RQE-PSAOV':[[0,-2e4,-1e4,0],[1.43e6,2e5,3e5,4e5]],'RQE-RLE':[[0,.52,.55,.58],[1.43e6,-.2,.2,.6]],'ESRPS-VAE':[[6,-1.4,-1.3,-1.2],[100,.4,.47,.54]],'ESRPS-STJA':[[6,33.5,34.5,35.5],[100,20.2,21,21.8]],
'ESRPS-PSAOV':[[6,-1.3e5,-1e5,-7e4],[100,3e4,5e4,7e4]],'ESRPS-RLE':[[6,.4,.44,.48],[100,.57,.6,.63]],'VAE-STJA':[[-2.25,35.2,36,36.8],[1.75,15.2,16,16.8]],'VAE-PSAOV':[[-2.25,-1.1e5,-8e4,-5e4],[1.75,4e4,7e4,1e5]],
'VAE-RLE':[[-2.25,.28,.32,.36],[1.75,.73,.77,.81]],'STJA-PSAOV':[[-5,7e4,1e5,1.3e5],[45,-1e5,-7e4,-4e4]],'STJA-RLE':[[-5,.82,.88,.94],[45,.3,.35,.4]],'PSAOV-RLE':[[-2.3e6,-.25,0,.05],[0,.53,.56,.59],[1.45e6,.82,.9,.98]]};

// Layout rows: title top, plot top, plot bottom, density baseline
const layoutRows=[[18,113,355,99],[483,578,821,563],[950,1045,1288,1030],[1414,1509,1753,1496]];
// Panels: x, y, layout row, title x, y-axis x, first x tick, last x tick, right density start, right density end
const panels=[
['LPI','GEE',0,7,100,113,348,363,399],['LPI','RQE',0,445,581,591,795,806,844],['LPI','ESRPS',0,881,976,988,1223,1237,1276],['LPI','VAE',0,1319,1397,1409,1656,1672,1718],['LPI','STJA',0,1755,1847,1858,2095,2111,2155],['LPI','PSAOV',0,2193,2316,2328,2539,2551,2592],['LPI','RLE',0,2629,2699,2712,2965,2980,3029],['GEE','RQE',0,3066,3202,3213,3415,3428,3466],['GEE','ESRPS',0,3503,3596,3609,3845,3859,3899],
['GEE','VAE',1,7,84,97,344,359,407],['GEE','STJA',1,444,533,546,784,799,844],['GEE','PSAOV',1,881,1007,1018,1230,1242,1283],['GEE','RLE',1,1318,1389,1402,1656,1671,1719],['RQE','ESRPS',1,1755,1850,1863,2098,2111,2152],['RQE','VAE',1,2192,2268,2282,2529,2544,2592],['RQE','STJA',1,2630,2719,2730,2969,2984,3029],['RQE','PSAOV',1,3067,3191,3203,3414,3426,3466],['RQE','RLE',1,3503,3578,3593,3841,3856,3903],
['ESRPS','VAE',2,7,84,97,344,359,407],['ESRPS','STJA',2,444,533,546,784,799,844],['ESRPS','PSAOV',2,881,1007,1018,1230,1242,1283],['ESRPS','RLE',2,1318,1389,1402,1656,1671,1719],['VAE','STJA',2,1755,1846,1858,2096,2111,2156],['VAE','PSAOV',2,2192,2317,2327,2540,2551,2592],['VAE','RLE',2,2629,2699,2712,2965,2980,3028],['STJA','PSAOV',2,3068,3191,3202,3414,3426,3466],['STJA','RLE',2,3505,3572,3587,3840,3855,3903],
['PSAOV','RLE',3,7,83,97,344,359,407]];

const FONT='"Liberation Sans",Arial,sans-serif';
const option={animation:false,backgroundColor:'#fff',title:[],grid:[],xAxis:[],yAxis:[],series:[]};
const colIdx=v=>variableNames.indexOf(v);
function labelsFor(v,isX,key){
  if(!isX&&key==='RQE-ESRPS')return ticksESRPSwide;
  if(!isX&&(key==='RQE-RLE'||key==='PSAOV-RLE'))return ticksRLEwide;
  if(v==='RQE')return isX?ticksRQEx:ticksRQEy;
  if(v==='PSAOV')return isX?ticksPSAOVx:ticksPSAOVy;
  return ticksPlain[v];
}
function polygonSeries(points,xi,yi,style,z){
  return {type:'custom',coordinateSystem:'cartesian2d',xAxisIndex:xi,yAxisIndex:yi,silent:true,clip:true,z:z,data:points,
    renderItem:function(p,api){
      if(p.dataIndex!==0)return null;
      return {type:'polygon',shape:{points:points.map(q=>api.coord(q))},style:style};
    }};
}
const densStyle={fill:'#969696',stroke:'#3a3a3a',lineWidth:1.2};
panels.forEach(function(pn){
  const [xv,yv,rowI,titleX,yAxisX,x0,x1,rs,re]=pn;
  const [tTop,pTop,pBot,dBase]=layoutRows[rowI];
  const key=xv+'-'+yv;
  const xr=axisRange[xv], yr=rangeOverride[key]||axisRange[yv];
  const xl=labelsFor(xv,true,key), yl=labelsFor(yv,false,key);
  const a=option.grid.length;
  option.title.push({text:xv+' - '+yv,left:titleX,top:tTop,padding:0,textStyle:{fontFamily:FONT,fontSize:18,fontWeight:'normal',color:'#000'}});
  // main panel
  option.grid.push({left:x0,top:pTop,width:x1-x0,height:pBot-pTop});
  option.xAxis.push({type:'value',gridIndex:a,min:xr[0],max:xr[1],interval:xr[2],offset:13,splitLine:{show:false},
    axisLine:{show:true,onZero:false,lineStyle:{color:'#d6d6d6',width:2}},axisTick:{show:true,length:10,lineStyle:{color:'#808080',width:1.5}},
    axisLabel:{fontFamily:FONT,fontSize:20,color:'#4a4a4a',margin:7,interval:0,showMinLabel:true,showMaxLabel:true,hideOverlap:false,formatter:(val)=>xl[Math.round((val-xr[0])/xr[2])]},
    name:xv,nameLocation:'middle',nameGap:55,nameTextStyle:{fontFamily:FONT,fontSize:22,color:'#404040',verticalAlign:'top'}});
  option.yAxis.push({type:'value',gridIndex:a,min:yr[0],max:yr[1],interval:yr[2],offset:x0-yAxisX,splitLine:{show:false},
    axisLine:{show:true,onZero:false,lineStyle:{color:'#cfcfcf',width:1.5}},axisTick:{show:true,length:10,lineStyle:{color:'#a0a0a0',width:1.5}},
    axisLabel:{fontFamily:FONT,fontSize:20,color:'#4a4a4a',margin:9,interval:0,showMinLabel:true,showMaxLabel:true,hideOverlap:false,formatter:(val)=>yl[Math.round((val-yr[0])/yr[2])]},
    name:yv,nameLocation:'middle',nameRotate:90,nameGap:yAxisX-titleX-13-11,nameTextStyle:{fontFamily:FONT,fontSize:22,color:'#404040',verticalAlign:'bottom'}});
  // top density
  const hTop=topDensityPeak[xv];
  option.grid.push({left:x0,top:dBase-hTop,width:x1-x0,height:hTop});
  option.xAxis.push({type:'value',gridIndex:a+1,min:xr[0],max:xr[1],show:false});
  option.yAxis.push({type:'value',gridIndex:a+1,min:0,max:1,show:false});
  // right density
  option.grid.push({left:rs,top:pTop,width:re-rs,height:pBot-pTop});
  option.xAxis.push({type:'value',gridIndex:a+2,min:0,max:1,show:false});
  option.yAxis.push({type:'value',gridIndex:a+2,min:yr[0],max:yr[1],show:false});
  // points
  const ix=colIdx(xv), iy=colIdx(yv);
  option.series.push({type:'scatter',xAxisIndex:a,yAxisIndex:a,clip:false,silent:true,large:false,symbol:'circle',symbolSize:10,z:2,
    itemStyle:{color:'#adadad',opacity:.9,borderColor:'#1a1a1a',borderWidth:1.3},
    data:observations.map(r=>[r[ix]*columnUnits[ix],r[iy]*columnUnits[iy]])});
  // confidence band and fit
  const nodes=fitNodes[key];
  const band=[...nodes.map(n=>[n[0],n[3]]),...nodes.slice().reverse().map(n=>[n[0],n[1]])];
  option.series.push(Object.assign(polygonSeries(band,a,a,{fill:'#999999',opacity:.4},3),{clip:false}));
  option.series.push({type:'line',xAxisIndex:a,yAxisIndex:a,silent:true,clip:false,symbol:'none',z:4,lineStyle:{color:'#3366ff',width:4},data:nodes.map(n=>[n[0],n[2]])});
  // marginals
  const dx=densities[xv], dy=densities[yv];
  const topPts=[[dx[0][0],0],...dx,[dx[dx.length-1][0],0]];
  option.series.push(polygonSeries(topPts,a+1,a+1,densStyle,2));
  const rightPts=[[0,dy[0][0]],...dy.map(d=>[d[1],d[0]]),[0,dy[dy.length-1][0]]];
  option.series.push(polygonSeries(rightPts,a+2,a+2,densStyle,2));
});
// Second label-only axis on the PSAOV - RLE panel, so that the two crowded labels stay visible
const lastPanelGrid=(panels.length-1)*3;
const psaovRange=axisRange.PSAOV;
option.xAxis.push({type:'value',gridIndex:lastPanelGrid,position:'bottom',min:psaovRange[0],max:psaovRange[1],interval:psaovRange[2],offset:13,splitLine:{show:false},
  axisLine:{show:false,onZero:false},axisTick:{show:false},
  axisLabel:{fontFamily:FONT,fontSize:20,color:'#4a4a4a',margin:7,interval:0,hideOverlap:false,formatter:(val)=>ticksPSAOVxCrowded[Math.round((val-psaovRange[0])/psaovRange[2])]}});
option.title.push({text:'▼',left:93,top:19,padding:0,textStyle:{fontFamily:'"DejaVu Sans",sans-serif',fontSize:11,fontWeight:'normal',color:'#111'}});
const chart=echarts.init(document.getElementById('c'),null,{renderer:'canvas',width:3911,height:1851});
chart.setOption(option);
</script></body></html>
